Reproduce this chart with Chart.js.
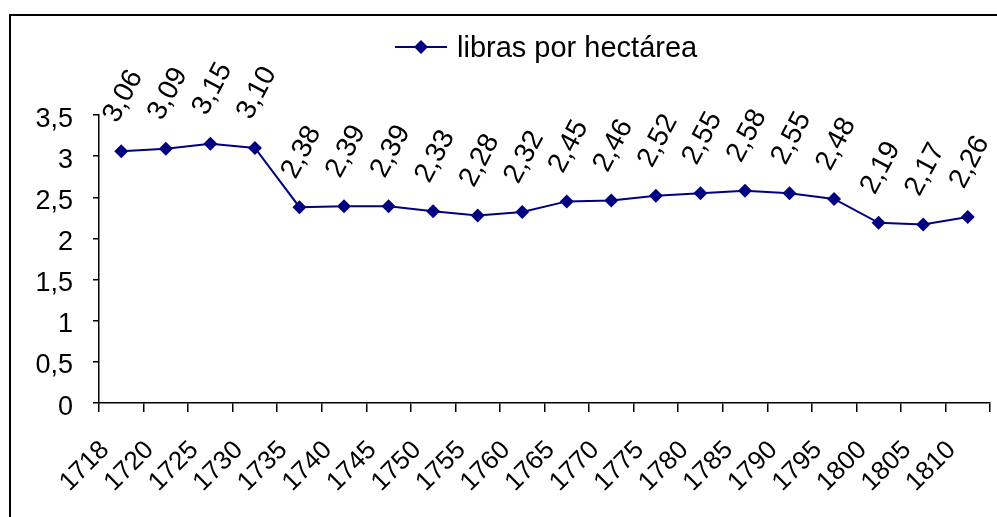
<!DOCTYPE html>
<html>
<head>
<meta charset="utf-8">
<script src="https://cdn.jsdelivr.net/npm/chart.js@4.4.1/dist/chart.umd.min.js"></script>
<style>
  html, body { margin: 0; background: #fff; }
  #chart { display: block; }
</style>
</head>
<body>
<canvas id="chart" width="997" height="517"></canvas>
<script>
const years = ['1718', '1720', '1725', '1730', '1735', '1740', '1745', '1750', '1755', '1760',
               '1765', '1770', '1775', '1780', '1785', '1790', '1795', '1800', '1805', '1810'];
const libras = [3.06, 3.09, 3.15, 3.10, 2.38, 2.39, 2.39, 2.33, 2.28, 2.32,
                2.45, 2.46, 2.52, 2.55, 2.58, 2.55, 2.48, 2.19, 2.17, 2.26];
const seriesName = 'libras por hectárea';
const yMin = 0, yMax = 3.5, yStep = 0.5;

const NAVY = '#000080';
const FONT = '"Liberation Sans", Arial, sans-serif';

function comma(v, digits) {
    return v.toFixed(digits).replace('.', ',');
}

function drawText(ctx, text, x, y, angle, size, align, dy) {
    ctx.save();
    ctx.translate(x, y);
    ctx.rotate(angle);
    ctx.font = size + 'px ' + FONT;
    ctx.fillStyle = '#000';
    ctx.textAlign = align;
    ctx.textBaseline = 'alphabetic';
    ctx.fillText(text, 0, dy || 0);
    ctx.restore();
}

const excelLook = {
    id: 'excelLook',
    beforeDraw(chart) {
        // outer frame, runs off the right and bottom like the original
        var ctx = chart.ctx;
        ctx.save();
        ctx.strokeStyle = '#000';
        ctx.lineWidth = 2;
        ctx.strokeRect(10, 15, 1200, 700);
        ctx.restore();
    },
    afterDraw(chart) {
        var ctx = chart.ctx;
        var xs = chart.scales.x, ys = chart.scales.y;

        ys.ticks.forEach(function (t) {
            var v = t.value;
            var txt = Number.isInteger(v) ? String(v) : comma(v, 1);
            drawText(ctx, txt, 73, ys.getPixelForValue(v) + 11.5, 0, 27, 'right');
        });

        years.forEach(function (lab, i) {
            var cx = xs.getPixelForValue(i);
            drawText(ctx, lab, cx - 11, 451, -Math.PI / 4, 26, 'right');
        });

        var meta = chart.getDatasetMeta(0);
        meta.data.forEach(function (pt, i) {
            drawText(ctx, comma(libras[i], 2), pt.x, pt.y - 56, -62 * Math.PI / 180, 28, 'center', 0.358 * 28);
        });

        // legend: line with a diamond, then the name
        ctx.save();
        ctx.strokeStyle = NAVY;
        ctx.lineWidth = 2;
        ctx.beginPath();
        ctx.moveTo(395, 47);
        ctx.lineTo(447, 47);
        ctx.stroke();
        ctx.fillStyle = NAVY;
        ctx.beginPath();
        ctx.moveTo(421 - 7, 47);
        ctx.lineTo(421, 40);
        ctx.lineTo(421 + 7, 47);
        ctx.lineTo(421, 54);
        ctx.closePath();
        ctx.fill();
        ctx.restore();
        drawText(ctx, seriesName, 457, 57, 0, 29, 'left');
    }
};

window.addEventListener('DOMContentLoaded', () => {
    var ctx = document.getElementById('chart').getContext('2d');
    var chart = new Chart(ctx, {
        type: 'line',
        data: {
            labels: years,
            datasets: [{
                label: seriesName,
                data: libras,
                borderColor: NAVY,
                backgroundColor: NAVY,
                borderWidth: 2,
                pointStyle: 'rectRot',
                pointRadius: 7,
                pointBorderWidth: 0,
                pointBackgroundColor: NAVY,
                tension: 0
            }]
        },
        options: {
            responsive: false,
            animation: false,
            devicePixelRatio: 1,
            layout: {
                padding: { top: 115, right: 5, bottom: 0, left: 0 }
            },
            plugins: {
                legend: { display: false },
                tooltip: { enabled: false }
            },
            scales: {
                x: {
                    offset: true,
                    grid: {
                        offset: true,
                        drawOnChartArea: false,
                        drawTicks: true,
                        tickLength: 9,
                        color: '#000',
                        lineWidth: 1.5
                    },
                    border: { display: true, color: '#000', width: 1.5 },
                    ticks: { display: false },
                    afterFit: function (scale) { scale.height = 114; }
                },
                y: {
                    min: yMin,
                    max: yMax,
                    ticks: { display: false, stepSize: yStep },
                    grid: {
                        drawOnChartArea: false,
                        drawTicks: true,
                        tickLength: 6,
                        color: '#000',
                        lineWidth: 1.5
                    },
                    border: { display: true, color: '#000', width: 1.5 },
                    afterFit: function (scale) { scale.width = 99; }
                }
            }
        },
        plugins: [excelLook]
    });
})
</script>
</body>
</html>
